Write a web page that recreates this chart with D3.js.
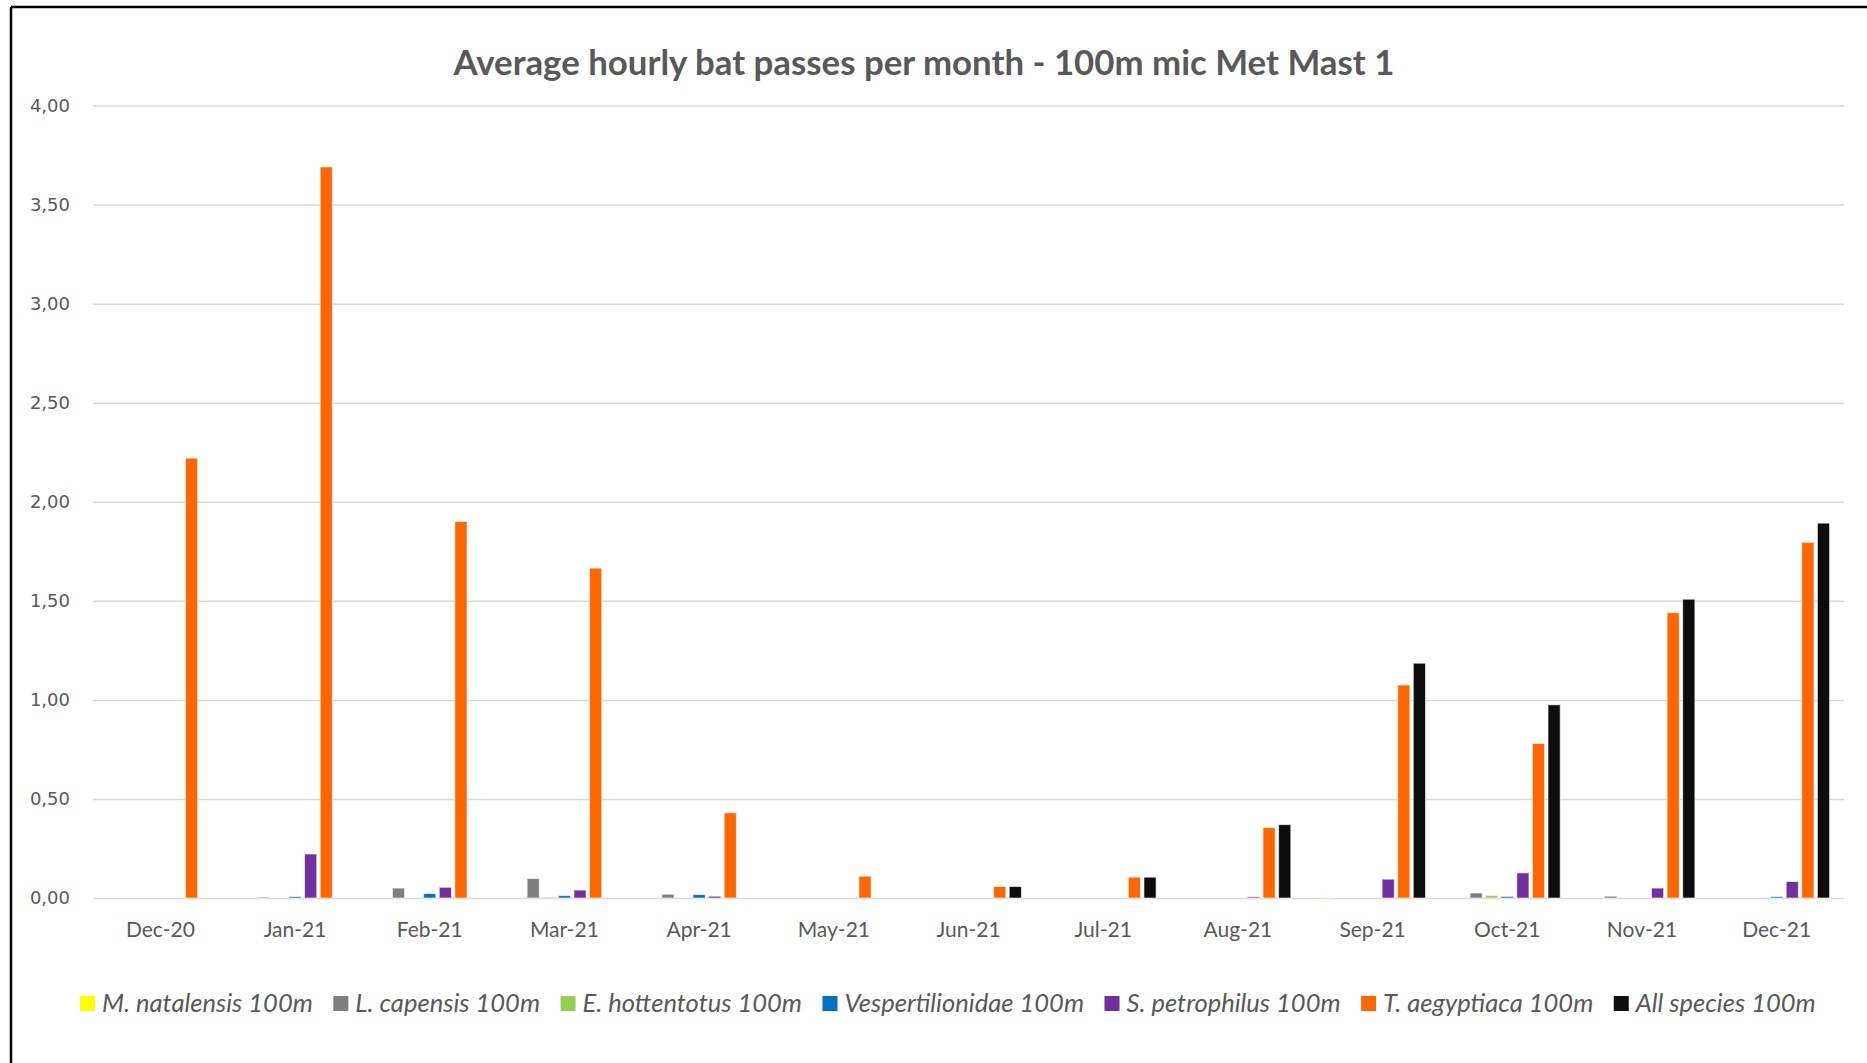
<!DOCTYPE html>
<html>
<head>
<meta charset="utf-8">
<script src="https://cdn.jsdelivr.net/npm/d3@7"></script>
<style>
  body { margin: 0; background: #fff; }
  svg { display: block; }
</style>
</head>
<body>
<svg id="bar-chart" width="1867" height="1063"></svg>
<script>
  // Data
  const categories = ["Dec-20", "Jan-21", "Feb-21", "Mar-21", "Apr-21", "May-21", "Jun-21",
    "Jul-21", "Aug-21", "Sep-21", "Oct-21", "Nov-21", "Dec-21"];

  const seriesNames = ["M. natalensis 100m", "L. capensis 100m", "E. hottentotus 100m",
    "Vespertilionidae 100m", "S. petrophilus 100m", "T. aegyptiaca 100m", "All species 100m"];

  const mNatalensis = [0, 0, 0, 0, 0, 0, 0, 0, 0, 0.003, 0, 0, 0];
  const lCapensis = [0, 0.005, 0.05, 0.098, 0.019, 0, 0, 0, 0, 0, 0.025, 0.009, 0];
  const eHottentotus = [0, 0, 0, 0.005, 0, 0, 0, 0, 0, 0, 0.013, 0, 0];
  const vespertilionidae = [0, 0.007, 0.022, 0.012, 0.017, 0, 0, 0, 0, 0, 0.008, 0, 0.007];
  const sPetrophilus = [0, 0.222, 0.054, 0.04, 0.009, 0, 0, 0, 0.006, 0.095, 0.127, 0.05, 0.083];
  const tAegyptiaca = [2.22, 3.69, 1.9, 1.665, 0.43, 0.11, 0.058, 0.105, 0.355, 1.075, 0.78, 1.44, 1.795];
  const allSpecies = [null, null, null, null, null, null, 0.058, 0.105, 0.37, 1.185, 0.975, 1.508, 1.892];

  const yTicks = [0, 0.5, 1, 1.5, 2, 2.5, 3, 3.5, 4];

  const seriesValues = [mNatalensis, lCapensis, eHottentotus, vespertilionidae,
    sPetrophilus, tAegyptiaca, allSpecies];
  const colors = ["#FFFF00", "#7F7F7F", "#92D050", "#0070C0", "#7030A0", "#FF6600", "#0D0D0D"];

  const svg = d3.select("#bar-chart");
  const textColor = "#595959";

  // frame (left and top edges only are visible)
  svg.append("line").attr("x1", 11).attr("x2", 1867).attr("y1", 7).attr("y2", 7)
    .attr("stroke", "#000").attr("stroke-width", 2.5);
  svg.append("line").attr("x1", 11).attr("x2", 11).attr("y1", 7).attr("y2", 1063)
    .attr("stroke", "#000").attr("stroke-width", 2.5);

  const plot = { left: 93, right: 1844, top: 105.5, bottom: 898 };

  // Scales
  const x0 = d3.scaleBand()
    .domain(categories)
    .range([plot.left, plot.right])
    .padding(0);

  const x1 = d3.scaleBand()
    .domain(seriesNames)
    .range([0, x0.bandwidth()])
    .paddingInner(0.22)
    .paddingOuter(0.925);

  const y = d3.scaleLinear()
    .domain([0, 4])
    .range([plot.bottom, plot.top]);

  const locale = d3.formatLocale({ decimal: ",", thousands: ".", grouping: [3], currency: ["", ""] });
  const fmt = locale.format(".2f");

  // Y axis with gridlines
  const yAxis = svg.append("g")
    .attr("transform", `translate(${plot.left}, 0)`)
    .call(d3.axisLeft(y).tickValues(yTicks).tickFormat(fmt)
      .tickSize(-(plot.right - plot.left)).tickPadding(23));
  yAxis.select(".domain").remove();
  yAxis.selectAll("line").attr("stroke", "#d9d9d9").attr("stroke-width", 1.5);
  yAxis.selectAll("text")
    .attr("fill", textColor)
    .style("font-family", "'DejaVu Sans', Verdana, sans-serif")
    .style("font-size", "18px");

  // Bars
  const groups = svg.selectAll(".month")
    .data(categories)
    .enter()
    .append("g")
    .attr("class", "month")
    .attr("transform", (d) => `translate(${x0(d)}, 0)`);

  groups.selectAll("rect")
    .data((d, i) => seriesNames.map((s, j) => ({ series: s, value: seriesValues[j][i], color: colors[j] })))
    .enter()
    .filter((d) => d.value !== null)
    .append("rect")
    .attr("x", (d) => x1(d.series))
    .attr("y", (d) => y(d.value))
    .attr("width", x1.bandwidth())
    .attr("height", (d) => y(0) - y(d.value))
    .attr("fill", (d) => d.color)
    .attr("stroke", "#fff")
    .attr("stroke-opacity", 0.6)
    .attr("stroke-width", 1);

  // X axis labels
  const xAxis = svg.append("g")
    .attr("transform", `translate(0, ${plot.bottom})`)
    .call(d3.axisBottom(x0).tickSize(0));
  xAxis.select(".domain").remove();
  xAxis.selectAll("text")
    .attr("y", 39)
    .attr("dy", null)
    .attr("fill", textColor)
    .style("font-family", "Lato, Carlito, Calibri, sans-serif")
    .style("font-size", "21px");

  // Title
  const title = svg.append("text")
    .attr("x", 924)
    .attr("y", 75)
    .attr("text-anchor", "middle")
    .attr("fill", textColor)
    .style("font-family", "Lato, Carlito, Calibri, sans-serif")
    .style("font-weight", "bold")
    .style("font-size", "30px")
    .text("Average hourly bat passes per month - 100m mic Met Mast 1");
  const tw = title.node().getComputedTextLength();
  title.style("font-size", `${30 * 941 / tw}px`);

  // Legend
  const legend = svg.append("g").attr("transform", "translate(80, 0)");
  const probe = legend.append("text")
    .style("font-family", "Lato, Carlito, Calibri, sans-serif")
    .style("font-style", "italic")
    .style("font-size", "24px")
    .text(seriesNames[0]);
  const legendSize = 24 * 211 / probe.node().getComputedTextLength();
  probe.remove();

  let lx = 0;
  seriesNames.forEach((name, i) => {
    const item = legend.append("g").attr("transform", `translate(${lx}, 0)`);
    item.append("rect")
      .attr("x", 0).attr("y", 996)
      .attr("width", 15).attr("height", 15)
      .attr("fill", colors[i]);
    const t = item.append("text")
      .attr("x", 22).attr("y", 1012)
      .attr("fill", textColor)
      .style("font-family", "Lato, Carlito, Calibri, sans-serif")
      .style("font-style", "italic")
      .style("font-size", `${legendSize}px`)
      .text(name);
    lx += 22 + t.node().getComputedTextLength() + 20.5;
  });
</script>
</body>
</html>
